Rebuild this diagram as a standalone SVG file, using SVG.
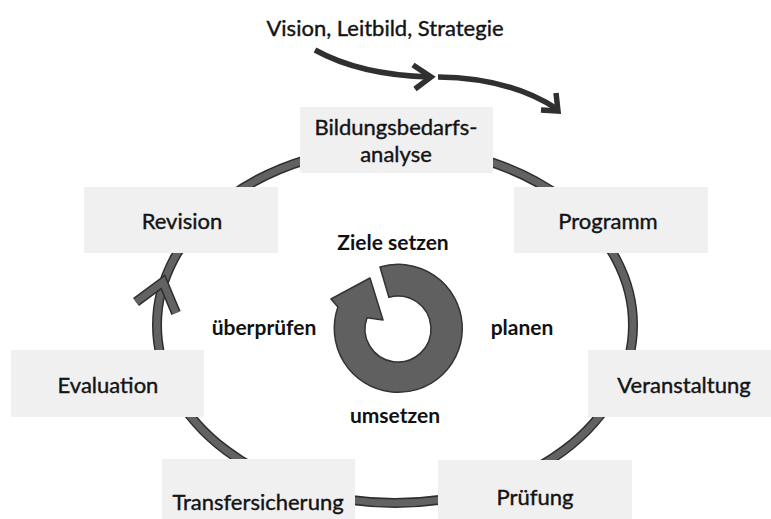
<svg xmlns="http://www.w3.org/2000/svg" width="771" height="519" viewBox="0 0 771 519">
<style>
.box{fill:#f0f0f1}
.t{font-family:Lato,"Liberation Sans",sans-serif;font-size:22px;fill:#141414;stroke:#141414;stroke-width:0.4;text-anchor:middle}
.b{font-family:Lato,"Liberation Sans",sans-serif;font-size:21px;font-weight:bold;fill:#111;text-anchor:middle}
.ro{fill:none;stroke:#2e2e2e;stroke-width:10}
.ri{fill:none;stroke:#626262;stroke-width:7}
.ar{fill:none;stroke:#303030;stroke-width:5.5;stroke-linejoin:miter}
</style>
<rect width="771" height="519" fill="#fff"/>
<g id="connectors">
<ellipse class="ro" cx="395" cy="325" rx="238" ry="178"/>
<ellipse class="ri" cx="395" cy="325" rx="238" ry="178"/>
<polyline class="ro" points="136,302 163,282 176,313"/>
<polyline class="ri" points="136,302 163,282 176,313"/>
<path class="ar" d="M315,50 Q360,75 430,77"/>
<polyline class="ar" points="413,65 431,77 415,89"/>
<path class="ar" d="M438,77 Q510,78 557,109"/>
<polyline class="ar" points="556,93 558,111 541,110"/>
</g>
<g id="cycle-arrow">
<path d="M380,267 A64,64 0 1 1 337.9,307.1 L331,299 L370,278 L383,320 L367,317.7 A33,33 0 1 0 388.9,297.3 Z" fill="#606060" stroke="#333" stroke-width="1.5" stroke-linejoin="round"/>
</g>
<g id="vision"><text class="t" x="385" y="36">Vision, Leitbild, Strategie</text></g>
<g id="bildungsbedarfsanalyse"><rect class="box" x="300" y="107" width="193" height="66"/><text class="t" x="396" y="135">Bildungsbedarfs-</text><text class="t" x="396" y="162">analyse</text></g>
<g id="programm"><rect class="box" x="514" y="187" width="194" height="66"/><text class="t" x="608" y="229">Programm</text></g>
<g id="veranstaltung"><rect class="box" x="588" y="350" width="183" height="67"/><text class="t" x="684" y="393">Veranstaltung</text></g>
<g id="pruefung"><rect class="box" x="438" y="460" width="194" height="59"/><text class="t" x="535" y="505">Prüfung</text></g>
<g id="transfersicherung"><rect class="box" x="162" y="459" width="193" height="60"/><text class="t" x="258" y="510">Transfersicherung</text></g>
<g id="evaluation"><rect class="box" x="11" y="350" width="193" height="67"/><text class="t" x="108" y="393">Evaluation</text></g>
<g id="revision"><rect class="box" x="84" y="187" width="194" height="66"/><text class="t" x="182" y="229">Revision</text></g>
<g id="labels">
<text class="b" x="393" y="250">Ziele setzen</text>
<text class="b" x="264" y="335">überprüfen</text>
<text class="b" x="522" y="335">planen</text>
<text class="b" x="395" y="423">umsetzen</text>
</g>
</svg>
